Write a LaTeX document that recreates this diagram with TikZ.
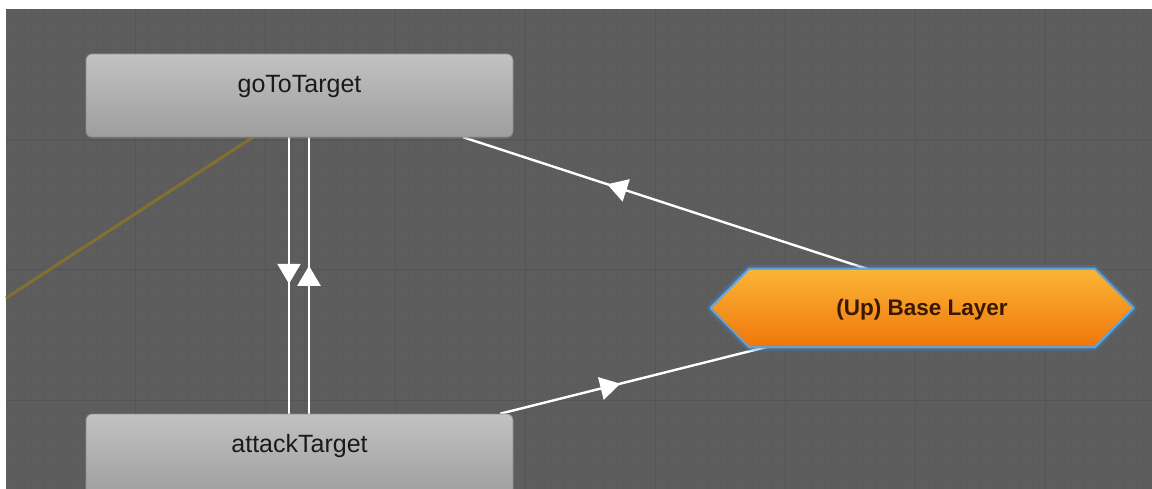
\documentclass[tikz,border=0pt]{standalone}
\usepackage{fontspec}
\setmainfont{Liberation Sans}
\usetikzlibrary{decorations.markings,arrows.meta,shadows}
\definecolor{bgc}{HTML}{5D5D5D}
\definecolor{gminorc}{HTML}{5A5A5A}
\definecolor{gmajorc}{HTML}{555555}
\definecolor{boxtop}{HTML}{C2C2C2}
\definecolor{boxbot}{HTML}{9E9E9E}
\definecolor{boxedge}{HTML}{8C8C8C}
\definecolor{txtc}{HTML}{1A1A1A}
\definecolor{hextop}{HTML}{FAB535}
\definecolor{hexbot}{HTML}{EF770C}
\definecolor{glowc}{HTML}{3F86C8}
\definecolor{rimc}{HTML}{5EA2DE}
\definecolor{hextxt}{HTML}{3A1700}
\definecolor{olivec}{HTML}{88722C}
\pgfdeclarelayer{bg}
\pgfdeclarelayer{conn}
\pgfdeclarelayer{hex}
\pgfsetlayers{bg,conn,hex,main}
\tikzset{
  gminor/.style={draw=gminorc, line width=0.6pt},
  gmajor/.style={draw=gmajorc, line width=1pt},
  statebox/.style={rectangle, rounded corners=6pt, top color=boxtop, bottom color=boxbot,
    draw=boxedge, line width=0.6pt, inner xsep=0pt, inner ysep=0pt, minimum width=427pt,
    font=\fontsize{25}{28}\selectfont, text=txtc,
    drop shadow={opacity=0.35, shadow xshift=0pt, shadow yshift=-2pt}},
  layerbox/.style={rectangle, inner sep=0pt, minimum width=420pt, minimum height=76pt,
    text height=16pt, text depth=0pt, font=\bfseries\fontsize{22.5}{26}\selectfont, text=hextxt},
  conn/.style={draw=white, line width=2.4pt},
  olivelink/.style={draw=olivec, line width=3pt, opacity=0.9},
  midarrow/.style={postaction={decorate}, decoration={markings,
    mark=at position #1 with {\arrow{Triangle[width=23pt,length=20pt,fill=white]}}}}
}
\begin{document}
\begin{tikzpicture}[x=1pt,y=-1pt]
\useasboundingbox (0,0) rectangle (1152,489);
% nodes
\node[statebox, text height=39pt, text depth=44pt] (goto) at (299.5,95.5) {goToTarget};
\node[statebox, text height=38pt, text depth=45pt] (attack) at (299.5,455.5) {attackTarget};
\node[layerbox] (base) at (922,308) {(Up) Base Layer};
\coordinate (lft) at (6,298);
% background and grid
\begin{pgfonlayer}{bg}
\fill[white] (0,0) rectangle (1152,489);
\fill[bgc] (6,9) rectangle (1152,489);
\foreach \i in {0,...,88} \draw[gminor] ({18+13*\i},9) -- ({18+13*\i},489);
\foreach \j in {0,...,36} \draw[gminor] (6,{23+13*\j}) -- (1152,{23+13*\j});
\foreach \i in {1,...,8} \draw[gmajor] ({5+130*\i},9) -- ({5+130*\i},489);
\foreach \j in {1,...,3} \draw[gmajor] (6,{10+130*\j}) -- (1152,{10+130*\j});
\end{pgfonlayer}
% connectors
\begin{pgfonlayer}{conn}
\draw[olivelink] (lft) -- ([xshift=167pt]goto.south west);
\draw[conn, midarrow=0.53] ([xshift=-10.5pt]goto.south) -- ([xshift=-10.5pt]attack.north);
\draw[conn, midarrow=0.535] ([xshift=9.5pt]attack.north) -- ([xshift=9.5pt]goto.south);
\draw[conn, midarrow=0.646] ([xshift=158pt]base.north west) -- ([xshift=-50pt]goto.south east);
\draw[conn, midarrow=0.445] ([xshift=-13pt]attack.north east) -- ([xshift=58pt]base.south west);
\end{pgfonlayer}
% hexagon of the layer node
\begin{pgfonlayer}{hex}
\draw[glowc, line width=10pt, opacity=0.3, line join=round]
  (base.west) -- ([xshift=38pt]base.north west) -- ([xshift=-38pt]base.north east) -- (base.east)
  -- ([xshift=-38pt]base.south east) -- ([xshift=38pt]base.south west) -- cycle;
\draw[rimc, line width=4.5pt, line join=round]
  (base.west) -- ([xshift=38pt]base.north west) -- ([xshift=-38pt]base.north east) -- (base.east)
  -- ([xshift=-38pt]base.south east) -- ([xshift=38pt]base.south west) -- cycle;
\shade[top color=hextop, bottom color=hexbot]
  (base.west) -- ([xshift=38pt]base.north west) -- ([xshift=-38pt]base.north east) -- (base.east)
  -- ([xshift=-38pt]base.south east) -- ([xshift=38pt]base.south west) -- cycle;
\end{pgfonlayer}
\end{tikzpicture}
\end{document}
